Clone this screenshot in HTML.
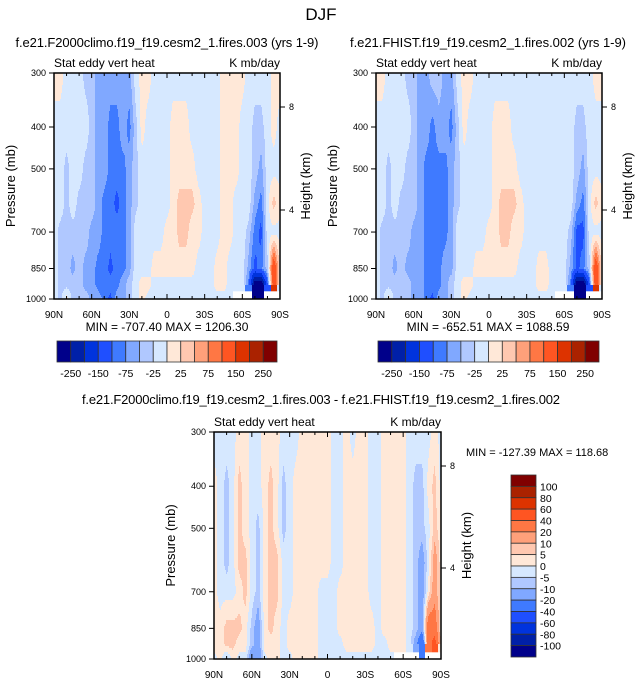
<!DOCTYPE html>
<html><head><meta charset="utf-8">
<style>
html,body{margin:0;padding:0;background:#fff;}
svg text{font-family:"Liberation Sans",sans-serif;fill:#000;}
</style></head>
<body>
<svg id="root" width="642" height="683" viewBox="0 0 642 683" xmlns="http://www.w3.org/2000/svg">
<text x="321" y="20" font-size="17" text-anchor="middle">DJF</text>
</svg>
<script>
// ---------- data ----------
const lats = [90,85,80,75,70,65,60,55,50,45,40,35,30,25,20,15,10,5,0,-5,-10,-15,-20,-25,-30,-35,-40,-45,-50,-55,-60,-65,-70,-75,-80,-85,-90];
const pressures = [300,400,500,600,700,850,925,1000];
const N = NaN;
const field1 = [
[10,10,-10,-10,-10,-35,-35,-60,-60,-60,-60,-60,-60,-10,10,10,-10,-10,-10,-10,-10,-10,-10,-10,-10,-10,-10,10,10,10,10,-10,-10,-10,-10,10,10],
[-10,-10,-10,-10,-10,-10,-35,-60,-60,-85,-85,-60,-85,-35,10,-10,-10,-10,-10,10,10,10,-10,-10,-10,-10,-10,10,10,10,-10,-10,-35,-35,-10,10,-10],
[-10,-10,-35,-10,-10,-35,-35,-60,-60,-85,-85,-85,-60,-35,-10,-10,-10,-10,-10,10,10,10,10,-10,-10,-10,-10,10,10,10,-10,-10,-35,-60,-10,-10,-10],
[-10,-10,-35,-10,-35,-35,-35,-60,-85,-85,-110,-85,-60,-35,-10,-10,-10,-10,-10,10,35,35,35,10,-10,-10,-10,10,10,-10,-10,-10,-60,-85,-10,35,10],
[-10,-35,-35,-35,-35,-35,-60,-60,-85,-85,-85,-85,-60,-10,-10,-10,-10,-10,10,10,35,35,10,10,-10,-10,-10,10,10,-10,-10,-35,-85,-110,-10,-10,-10],
[-10,-35,-35,-60,-35,-60,-60,-85,-85,-110,-85,-85,-60,-10,-10,-10,10,10,10,10,10,10,10,-10,-10,-10,10,10,-10,-10,-10,-60,-110,-85,-35,150,10],
[-10,-35,-35,-35,-35,-60,-60,-85,-85,-85,-85,-60,-35,-10,10,10,-10,-10,-10,-10,-10,-10,-10,-10,-10,-10,10,10,-10,-10,-10,-85,-300,-300,-110,150,-10],
[-10,-35,10,-35,-35,-35,-60,-60,-85,-110,-60,-60,-35,-10,10,-10,-10,-10,-10,-10,-10,-10,-10,-10,-10,-10,-10,-10,-10,N,N,N,-300,-300,N,N,N]
];
const field2 = [
[10,10,-10,-10,-10,-35,-35,-60,-60,-35,-35,-60,-60,-10,10,10,-10,-10,-10,-10,-10,-10,-10,-10,-10,-10,-10,-10,-10,-10,-10,-10,-10,-10,-10,10,10],
[-10,-10,-10,-10,-10,-10,-35,-60,-60,-85,-60,-60,-85,-35,10,-10,-10,-10,-10,10,10,10,-10,-10,-10,-10,-10,-10,-10,-10,-10,-10,-35,-35,-10,-10,-10],
[-10,-10,-35,-10,-10,-35,-35,-60,-85,-85,-85,-85,-60,-35,-10,-10,-10,-10,-10,10,10,10,10,-10,-10,-10,-10,-10,-10,-10,-10,-10,-35,-60,-10,-10,-10],
[-10,-10,-35,-10,-35,-35,-35,-60,-85,-85,-85,-85,-60,-35,-10,-10,-10,-10,-10,10,35,35,35,10,-10,-10,-10,-10,-10,-10,-10,-10,-60,-85,-10,35,10],
[-10,-35,-35,-35,-35,-35,-60,-60,-85,-85,-85,-85,-60,-10,-10,-10,-10,-10,10,10,35,35,10,10,-10,-10,-10,-10,-10,-10,-10,-35,-110,-110,-10,-10,-10],
[-10,-35,-35,-60,-35,-60,-60,-60,-85,-85,-85,-60,-60,-10,-10,-10,10,10,10,10,10,10,10,-10,-10,-10,10,10,-10,-10,-10,-60,-110,-85,-35,150,10],
[-10,-35,-35,-35,-35,-35,-60,-60,-85,-85,-85,-60,-35,-10,10,10,-10,-10,-10,-10,-10,-10,-10,-10,-10,-10,10,10,-10,-10,-10,-85,-300,-300,-110,150,-10],
[-10,-35,10,-35,-35,-35,-60,-60,-85,-110,-60,-60,-35,-10,10,-10,-10,-10,-10,-10,-10,-10,-10,-10,-10,-10,-10,-10,-10,N,N,N,-300,-300,N,N,N]
];
const field3 = [
[-2,-2,-2,-2,2,2,-2,-2,2,2,2,-2,-2,-2,2,2,2,2,2,-2,-2,2,-2,2,2,-2,-2,2,2,2,2,-2,-2,-2,-2,2,-2],
[2,-2,-7,-2,7,2,-2,-2,2,7,2,-7,-2,2,2,2,2,2,2,-2,-2,2,2,2,2,-2,-2,2,2,2,2,-2,-7,-7,2,7,-2],
[2,-2,-7,-2,7,2,-2,-7,2,7,2,-7,-2,2,2,2,2,2,2,-2,-2,2,2,2,2,-2,-2,2,2,2,2,-2,-7,-7,-2,7,2],
[2,-2,-7,-2,7,7,-2,-7,2,7,7,-2,-2,2,2,2,2,2,2,-2,-2,2,2,2,2,-2,-2,2,2,2,2,-2,-7,-15,-2,15,2],
[2,-2,-2,-2,2,7,-2,-7,2,7,7,-2,-2,2,2,2,2,-2,-2,-2,2,2,2,2,2,-2,-2,2,2,2,2,-2,-7,-15,2,15,2],
[2,2,7,7,7,2,-7,-15,2,7,2,-2,2,2,2,2,2,-2,-2,-2,2,2,2,2,2,2,-2,2,2,2,2,-2,-7,-15,30,30,2],
[2,2,7,7,2,2,-7,-15,2,2,2,-2,2,2,2,2,2,-2,-2,-2,-2,2,2,2,2,2,-2,-2,2,2,2,-2,-15,-40,30,50,2],
[-2,2,-7,2,-2,-2,-20,-20,-2,2,2,-2,-2,2,2,2,2,-2,-2,-2,-2,-2,-2,-2,-2,-2,-2,-2,-2,N,N,N,N,-40,N,N,N]
];
const levels1 = [-250,-200,-150,-100,-75,-50,-25,0,25,50,75,100,150,200,250];
const levels3 = [-100,-80,-60,-40,-20,-10,-5,0,5,10,20,40,60,80,100];
const barLabels1 = ["-250","-150","-75","-25","25","75","150","250"];
const barLabels3 = ["100","80","60","40","20","10","5","0","-5","-10","-20","-40","-60","-80","-100"];
const colors = ["#00008a","#0020a8","#0033dd","#1f4fff","#3f7aff","#80a8ff","#b0c8ff","#d6e8ff","#ffe8d8","#ffc8b0","#ffa07a","#ff7744","#ff5522","#dd3300","#aa2200","#800000"];
const pTicks = [300,400,500,700,850,1000];
const latTicks = [90,60,30,0,-30,-60,-90];
const latTickLabels = ["90N","60N","30N","0","30S","60S","90S"];
const hTicks = [8,4];

const svg = document.getElementById('root');
const NS = "http://www.w3.org/2000/svg";
function mk(tag, attrs, parent){const e=document.createElementNS(NS,tag);for(const k in attrs)e.setAttribute(k,attrs[k]);(parent||svg).appendChild(e);return e;}
function txt(x,y,s,size,anchor,parent){const t=mk('text',{x:x,y:y,'font-size':size,'text-anchor':anchor||'middle'},parent);t.textContent=s;return t;}

function colorIdx(v,levels){if(isNaN(v))return -1;let i=0;while(i<levels.length&&v>=levels[i])i++;return i;}

function drawPanel(id,field,levels,L,T,W,H,hy8,hy4){
  const g=mk('g',{});
  
  
  const lp0=Math.log(300), lp1=Math.log(1000);
  const yOf=p=>T+(Math.log(p)-lp0)/(lp1-lp0)*H;
  const xOf=lat=>L+(90-lat)/180*W;
  const lpRows=pressures.map(p=>Math.log(p));
  function sample(fx,lp){
    let r=0;while(r<lpRows.length-2&&lp>lpRows[r+1])r++;
    let ty=(lp-lpRows[r])/(lpRows[r+1]-lpRows[r]);ty=Math.max(0,Math.min(1,ty));
    let c=Math.min(Math.floor(fx),lats.length-2);let tx=fx-c;
    const a=field[r][c],b=field[r][c+1],d=field[r+1][c],e=field[r+1][c+1];
    if(isNaN(a)||isNaN(b)||isNaN(d)||isNaN(e)){
      const near=[[a,(1-tx)*(1-ty)],[b,tx*(1-ty)],[d,(1-tx)*ty],[e,tx*ty]].sort((m,n)=>n[1]-m[1])[0][0];
      return near;
    }
    return a*(1-tx)*(1-ty)+b*tx*(1-ty)+d*(1-tx)*ty+e*tx*ty;
  }
  const step=2;
  for(let y=T;y<T+H;y+=step){
    const p=Math.exp(lp0+((y+step/2-T)/H)*(lp1-lp0));
    const lp=Math.log(p);
    let runStart=L,runC=null;
    for(let x=L;x<=L+W;x++){
      let ci=null;
      if(x<L+W){const fx=(x+0.5-L)/W*(lats.length-1);ci=colorIdx(sample(fx,lp),levels);}
      if(ci!==runC||x===L+W){
        if(runC!==null&&runC>=0){
          const r=mk('rect',{x:runStart,y:y,width:x-runStart,height:Math.min(step,T+H-y)+0.3,fill:colors[runC]},g);
          
          
        }
        runStart=x;runC=ci;
      }
    }
  }
  const frame=mk('rect',{x:L,y:T,width:W,height:H,fill:'none',stroke:'#000','stroke-width':1.5});
  
  
  for(let lat=90;lat>=-90;lat-=10){
    const x=xOf(lat);const major=lat%30===0;const len=major?5:3;
    mk('line',{x1:x,y1:T,x2:x,y2:T+len,stroke:'#000','stroke-width':1});
    mk('line',{x1:x,y1:T+H,x2:x,y2:T+H-len,stroke:'#000','stroke-width':1});
  }
  latTicks.forEach((lat,i)=>{const t=txt(xOf(lat),T+H+19,latTickLabels[i],10);
    
    });
  pTicks.forEach(p=>{const y=yOf(p);mk('line',{x1:L-5,y1:y,x2:L,y2:y,stroke:'#000','stroke-width':1});
    const t=txt(L-8,y+3,String(p),9,'end');
    
    });
  [[hy8,"8"],[hy4,"4"]].forEach(([y,s])=>{mk('line',{x1:L+W,y1:y,x2:L+W+5,y2:y,stroke:'#000','stroke-width':1});
    const t=txt(L+W+9,y+3,s,9,'start');
    
    });
  const s1=txt(L,T-6,"Stat eddy vert heat",12,'start');
  
  
  const s2=txt(L+W,T-6,"K mb/day",12,'end');
  
  
  const yl=txt(0,0,"Pressure (mb)",13);
  yl.setAttribute('transform',`translate(${L-39},${T+H/2}) rotate(-90)`);
  
  
  const hl=txt(0,0,"Height (km)",13);
  hl.setAttribute('transform',`translate(${L+W+30},${T+H/2}) rotate(-90)`);
  
  
}

drawPanel('panel1',field1,levels1,54,73,226,226,107,210);
drawPanel('panel2',field2,levels1,376,73,226,226,107,210);
drawPanel('panel3',field3,levels3,214,432,227,227,466,568);

function hbar(id,L,T,W,H){
  const bw=W/colors.length;
  colors.forEach((c,i)=>{const r=mk('rect',{x:L+i*bw,y:T,width:bw,height:H,fill:c,stroke:'#333','stroke-width':0.8});
    
    });
  barLabels1.forEach((s,k)=>{const t=txt(L+(2*k+1)*bw,T+H+15,s,10.5);
    
    });
}
hbar('colorbar1',57,341,220,21);
hbar('colorbar2',378,341,221,21);

(function(){
  const L=511,T=475,W=25,H=182,bh=H/colors.length;
  colors.slice().reverse().forEach((c,i)=>{const r=mk('rect',{x:L,y:T+i*bh,width:W,height:bh,fill:c,stroke:'#333','stroke-width':0.8});
    
    });
  barLabels3.forEach((s,k)=>{const t=txt(L+W+4,T+(k+1)*bh+4,s,10.5,'start');
    
    });
})();

const t1=txt(167,47,"f.e21.F2000climo.f19_f19.cesm2_1.fires.003 (yrs 1-9)",13);
t1.setAttribute('textLength','303');


const t2=txt(488,47,"f.e21.FHIST.f19_f19.cesm2_1.fires.002 (yrs 1-9)",13);
t2.setAttribute('textLength','276');


const t3=txt(321,404,"f.e21.F2000climo.f19_f19.cesm2_1.fires.003 - f.e21.FHIST.f19_f19.cesm2_1.fires.002",13);
t3.setAttribute('textLength','478');


const m1=txt(167,331,"MIN = -707.40  MAX = 1206.30",12);


const m2=txt(488,331,"MIN = -652.51  MAX = 1088.59",12);


const m3=txt(466,456,"MIN = -127.39  MAX = 118.68",11,'start');


</script>
</body></html>
